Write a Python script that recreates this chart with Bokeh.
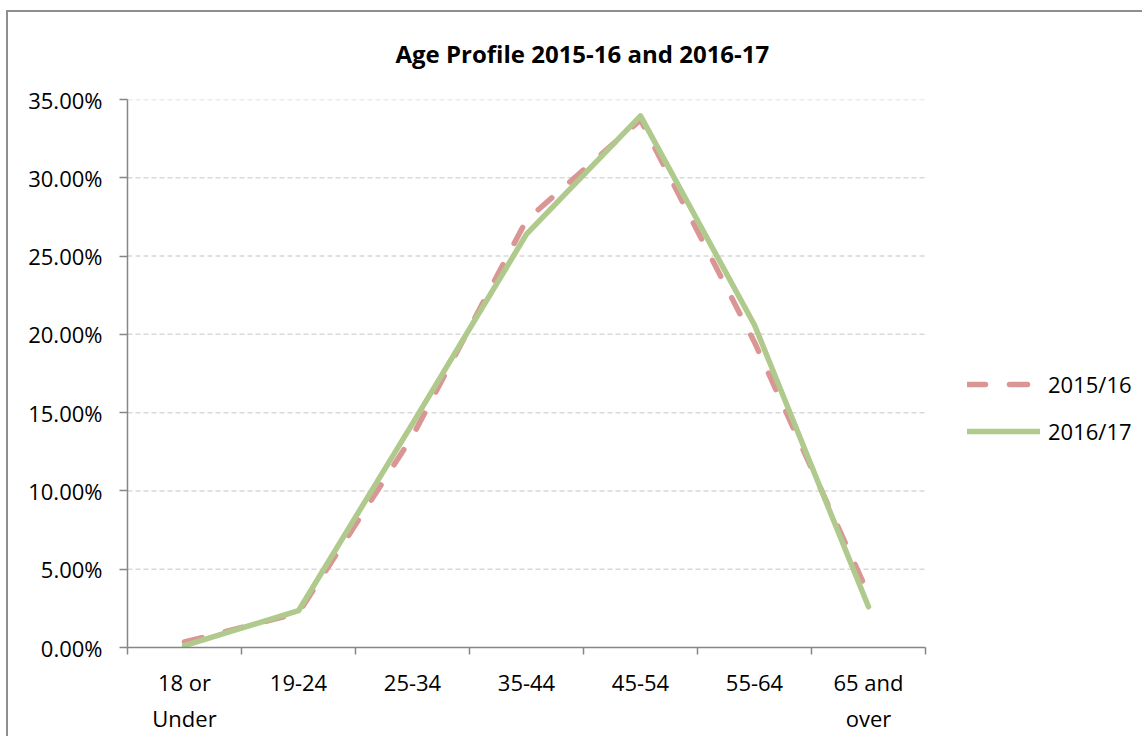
from bokeh.plotting import figure
from bokeh.models import Range1d, FixedTicker, NumeralTickFormatter, Legend, LegendItem, ColumnDataSource
from bokeh.embed import file_html
from bokeh.resources import INLINE

# ---- data ----
categories = ["18 or\nUnder", "19-24", "25-34", "35-44", "45-54", "55-64", "65 and\nover"]
series_names = ["2015/16", "2016/17"]
values_2015_16 = [0.0035, 0.022, 0.135, 0.273, 0.337, 0.195, 0.034]
values_2016_17 = [0.0012, 0.0235, 0.143, 0.264, 0.3395, 0.206, 0.026]
y_ticks = [0.0, 0.05, 0.10, 0.15, 0.20, 0.25, 0.30, 0.35]
title_text = "Age Profile 2015-16 and 2016-17"

FONT = "Open Sans"
AXIS_COLOR = "#868686"
PINK = "#D99694"
GREEN = "#B0C98C"

W, H = 1142, 736
LEFT, TOP, PLOT_W, PLOT_H = 127, 99, 798, 548

n = len(categories)
centers = [i + 0.5 for i in range(n)]
bounds = [float(i) for i in range(n + 1)]
frame_w = W - LEFT
x_end = n * frame_w / PLOT_W  # extra room on the right of the frame for the legend

src = ColumnDataSource(dict(x=centers, a=values_2015_16, b=values_2016_17))
grid_src = ColumnDataSource(dict(y=y_ticks[1:], x0=[0] * (len(y_ticks) - 1), x1=[n] * (len(y_ticks) - 1)))

p = figure(width=W, height=H, output_backend="svg", toolbar_location=None,
           x_range=Range1d(0, x_end), y_range=Range1d(0, y_ticks[-1]),
           min_border_left=LEFT, min_border_right=0, min_border_top=TOP,
           min_border_bottom=H - TOP - PLOT_H)
p.border_fill_alpha = 0
p.styles = {"background": "linear-gradient(#8E8E8E, #8E8E8E) 6px 10px / 2px calc(100% - 10px) no-repeat, "
                          "linear-gradient(#8E8E8E, #8E8E8E) 6px 10px / calc(100% - 6px) 2px no-repeat, #FFFFFF"}

p.title.text = title_text
p.title.text_font = FONT
p.title.text_font_size = "24px"
p.title.text_font_style = "bold"
p.title.align = "left"
p.title.offset = 268
p.title.standoff = 59
p.title.text_color = "black"

p.outline_line_color = None
p.background_fill_color = "white"

# x axis
xa = p.xaxis[0]
xa.bounds = (0, n)
xa.ticker = FixedTicker(ticks=centers, minor_ticks=bounds)
xa.major_label_overrides = {c: lab for c, lab in zip(centers, categories)}
xa.major_tick_line_color = None
xa.minor_tick_line_color = AXIS_COLOR
xa.minor_tick_line_width = 1.5
xa.minor_tick_out = 7
xa.minor_tick_in = 0
xa.axis_line_color = AXIS_COLOR
xa.axis_line_width = 1.5
xa.major_label_text_font = FONT
xa.major_label_text_font_size = "22px"
xa.major_label_text_color = "black"
xa.major_label_standoff = 12
xa.major_label_text_line_height = 1.2

# y axis
ya = p.yaxis[0]
ya.ticker = FixedTicker(ticks=y_ticks)
ya.formatter = NumeralTickFormatter(format="0.00%")
ya.major_tick_out = 8
ya.major_tick_in = 0
ya.major_tick_line_color = AXIS_COLOR
ya.major_tick_line_width = 1.5
ya.minor_tick_line_color = None
ya.axis_line_color = AXIS_COLOR
ya.axis_line_width = 1.5
ya.major_label_text_font = FONT
ya.major_label_text_font_size = "22px"
ya.major_label_text_color = "black"
ya.major_label_standoff = 17

p.xgrid.grid_line_color = None
p.ygrid.grid_line_color = None
p.segment(x0="x0", x1="x1", y0="y", y1="y", source=grid_src,
          line_color="#D9D9D9", line_dash="5 3", line_width=1.5)

r1 = p.line("x", "a", source=src, line_color=PINK, line_width=5.5, line_dash="18 24", line_cap="round")
r2 = p.line("x", "b", source=src, line_color=GREEN, line_width=5.5, line_join="round", line_cap="round")

legend = Legend(items=[LegendItem(label=series_names[0], renderers=[r1]),
                       LegendItem(label=series_names[1], renderers=[r2])],
                location=(840, 201), orientation="vertical",
                glyph_width=73, glyph_height=28, label_height=28, spacing=17,
                label_standoff=8, padding=0, margin=0,
                label_text_font=FONT, label_text_font_size="22px", label_text_color="black",
                border_line_color=None, background_fill_alpha=0)
p.add_layout(legend, "center")

open("out.html", "w").write(file_html(p, INLINE))
